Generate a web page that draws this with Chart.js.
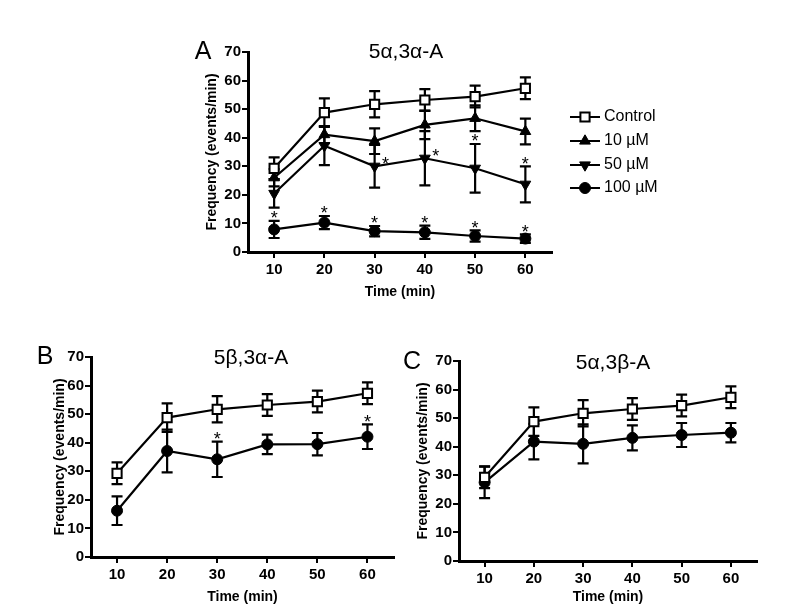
<!DOCTYPE html>
<html>
<head>
<meta charset="utf-8">
<script src="https://cdn.jsdelivr.net/npm/chart.js@4.4.1/dist/chart.umd.min.js"></script>
<style>
  html, body { margin: 0; padding: 0; background: #fff; }
  #wrap { position: relative; width: 800px; height: 611px; background: #fff; }
  #wrap canvas { position: absolute; left: 0; top: 0; }
</style>
</head>
<body>
<div id="wrap">
  <canvas id="chartA" width="800" height="611"></canvas>
  <canvas id="chartB" width="800" height="611"></canvas>
  <canvas id="chartC" width="800" height="611"></canvas>
</div>
<script>
// time points (min) and tick labels
const times = [10, 20, 30, 40, 50, 60];
const xTicks = [10, 20, 30, 40, 50, 60];
const yTicks = [0, 10, 20, 30, 40, 50, 60, 70];

// control (same in all panels)
const controlMean = [29.3, 48.8, 51.7, 53.2, 54.4, 57.3];
const controlSem  = [3.8, 5.0, 4.6, 3.8, 3.8, 3.8];

// panel A: 5a,3a-A
const a10Mean  = [26.0, 41.1, 38.8, 44.5, 46.8, 42.2];
const a10Sem   = [3.0, 3.0, 4.5, 5.0, 4.5, 4.5];
const a50Mean  = [20.5, 37.2, 30.0, 32.8, 29.3, 23.7];
const a50Sem   = [5.0, 6.8, 7.5, 9.5, 8.5, 6.3];
const a100Mean = [7.9, 10.3, 7.3, 6.9, 5.6, 4.7];
const a100Sem  = [3.0, 2.3, 1.8, 2.3, 2.0, 1.5];

// panel B: 5b,3a-A (100 uM)
const bMean = [16.2, 37.1, 34.2, 39.4, 39.5, 42.1];
const bSem  = [5.0, 7.5, 6.2, 3.4, 3.9, 4.3];

// panel C: 5a,3b-A (100 uM)
const cMean = [27.5, 41.8, 41.0, 43.1, 44.1, 44.9];
const cSem  = [5.5, 6.2, 6.8, 4.4, 4.2, 3.4];

// significance marks: series index, point index, where
const starsA = [
  { series: 3, index: 0, place: "above" },
  { series: 3, index: 1, place: "above" },
  { series: 3, index: 2, place: "above" },
  { series: 3, index: 3, place: "above" },
  { series: 3, index: 4, place: "above" },
  { series: 3, index: 5, place: "above" },
  { series: 2, index: 2, place: "right" },
  { series: 2, index: 3, place: "right" },
  { series: 2, index: 4, place: "above" },
  { series: 2, index: 5, place: "above" },
];
const starsB = [
  { series: 1, index: 2, place: "above" },
  { series: 1, index: 5, place: "above" },
];

const X_MIN = 4.8;
const X_MAX = 65.3;
const FONT = '"Liberation Sans", Arial, sans-serif';
Chart.defaults.font.family = FONT;
Chart.defaults.color = "#000";

const STYLE = {
  control: { shape: "rect", rotation: 0, radius: 6.5, fill: "#fff", bw: 2 },
  up: { shape: "triangle", rotation: 0, radius: 6.2, fill: "#000", bw: 1 },
  down: { shape: "triangle", rotation: 180, radius: 6.2, fill: "#000", bw: 1 },
  dot: { shape: "circle", rotation: 0, radius: 5.5, fill: "#000", bw: 1 },
};

function series(label, mean, sem, st) {
  return {
    label,
    data: times.map((t, i) => ({ x: t, y: mean[i] })),
    sem,
    marker: st,
    borderColor: "#000",
    borderWidth: 2.2,
    pointStyle: st.shape,
    pointRotation: st.rotation,
    pointRadius: st.radius,
    pointBackgroundColor: st.fill,
    pointBorderColor: "#000",
    pointBorderWidth: st.bw,
    tension: 0,
    fill: false,
  };
}

function drawMarker(ctx, st, x, y) {
  ctx.save();
  ctx.beginPath();
  if (st.shape === "rect") {
    const s = st.radius * Math.SQRT1_2;
    ctx.rect(x - s, y - s, 2 * s, 2 * s);
  } else if (st.shape === "triangle") {
    let a = st.rotation * Math.PI / 180;
    for (let k = 0; k < 3; k++) {
      const px = x + Math.sin(a) * st.radius;
      const py = y - Math.cos(a) * st.radius;
      if (k) ctx.lineTo(px, py); else ctx.moveTo(px, py);
      a += 2 * Math.PI / 3;
    }
    ctx.closePath();
  } else {
    ctx.arc(x, y, st.radius, 0, 2 * Math.PI);
  }
  ctx.fillStyle = st.fill;
  ctx.fill();
  ctx.lineWidth = st.bw;
  ctx.strokeStyle = "#000";
  ctx.stroke();
  ctx.restore();
}

const errorBars = {
  id: "errorBars",
  beforeDatasetsDraw(chart) {
    const ctx = chart.ctx, xs = chart.scales.x, ys = chart.scales.y;
    ctx.save();
    ctx.strokeStyle = "#000";
    ctx.lineWidth = 2.2;
    chart.data.datasets.forEach(ds => {
      ds.data.forEach((p, i) => {
        const px = xs.getPixelForValue(p.x);
        const top = ys.getPixelForValue(p.y + ds.sem[i]);
        const bot = ys.getPixelForValue(p.y - ds.sem[i]);
        ctx.beginPath();
        ctx.moveTo(px, top); ctx.lineTo(px, bot);
        ctx.moveTo(px - 5.5, top); ctx.lineTo(px + 5.5, top);
        ctx.moveTo(px - 5.5, bot); ctx.lineTo(px + 5.5, bot);
        ctx.stroke();
      });
    });
    ctx.restore();
  }
};

function starPlugin(stars) {
  return {
    id: "stars",
    afterDatasetsDraw(chart) {
      const ctx = chart.ctx, xs = chart.scales.x, ys = chart.scales.y;
      ctx.save();
      ctx.font = "18px " + FONT;
      ctx.fillStyle = "#000";
      ctx.textAlign = "center";
      ctx.textBaseline = "alphabetic";
      stars.forEach(s => {
        const ds = chart.data.datasets[s.series];
        const p = ds.data[s.index];
        const px = xs.getPixelForValue(p.x);
        if (s.place === "above") {
          const cap = ys.getPixelForValue(p.y + ds.sem[s.index]);
          ctx.fillText("*", px, cap - 7 + 10.3);
        } else {
          const py = ys.getPixelForValue(p.y);
          ctx.fillText("*", px + 11, py - 7 + 10.3);
        }
      });
      ctx.restore();
    }
  };
}

function textPlugin(items) {
  return {
    id: "panelText",
    afterDraw(chart) {
      const ctx = chart.ctx;
      ctx.save();
      ctx.fillStyle = "#000";
      ctx.textBaseline = "middle";
      items.forEach(t => {
        ctx.font = t.size + "px " + FONT;
        ctx.textAlign = t.align || "center";
        ctx.fillText(t.text, t.x, t.y);
      });
      ctx.restore();
    }
  };
}

const lineLegend = {
  id: "lineLegend",
  afterDraw(chart) {
    const ctx = chart.ctx;
    const rows = [117, 141, 165, 188];
    ctx.save();
    chart.data.datasets.forEach((ds, i) => {
      const y = rows[i];
      ctx.strokeStyle = "#000";
      ctx.lineWidth = 2;
      ctx.beginPath();
      ctx.moveTo(570, y); ctx.lineTo(600, y);
      ctx.stroke();
      drawMarker(ctx, ds.marker, 585, y);
      ctx.fillStyle = "#000";
      ctx.font = "16px " + FONT;
      ctx.textAlign = "left";
      ctx.textBaseline = "middle";
      ctx.fillText(ds.label, 604, y);
    });
    ctx.restore();
  }
};

function panelOptions(pad, yW, xH) {
  return {
    responsive: false,
    animation: false,
    devicePixelRatio: 1,
    events: [],
    layout: { padding: pad },
    plugins: {
      legend: { display: false },
      tooltip: { enabled: false },
      title: { display: false },
    },
    scales: {
      x: {
        type: "linear",
        min: X_MIN,
        max: X_MAX,
        afterBuildTicks: s => { s.ticks = xTicks.map(v => ({ value: v })); },
        afterFit: s => { s.height = xH; },
        ticks: { color: "#000", font: { size: 15, weight: "bold" }, padding: 3, maxRotation: 0 },
        grid: { drawOnChartArea: false, drawTicks: true, tickLength: 6, color: "#000", lineWidth: 2 },
        border: { display: true, color: "#000", width: 3 },
        title: {
          display: true, text: "Time (min)", color: "#000",
          font: { size: 14, weight: "bold" }, padding: { top: 0, bottom: 4 },
        },
      },
      y: {
        type: "linear",
        min: 0,
        max: 70,
        afterBuildTicks: s => { s.ticks = yTicks.map(v => ({ value: v })); },
        afterFit: s => { s.width = yW; },
        ticks: { color: "#000", font: { size: 15, weight: "bold" }, padding: 1 },
        grid: { drawOnChartArea: false, drawTicks: true, tickLength: 6, color: "#000", lineWidth: 2 },
        border: { display: true, color: "#000", width: 3 },
        title: {
          display: true, text: "Frequency (events/min)", color: "#000",
          font: { size: 14, weight: "bold" }, padding: { top: 4, bottom: 0 },
        },
      },
    },
  };
}

new Chart(document.getElementById("chartA"), {
  type: "line",
  data: {
    datasets: [
      series("Control", controlMean, controlSem, STYLE.control),
      series("10 µM", a10Mean, a10Sem, STYLE.up),
      series("50 µM", a50Mean, a50Sem, STYLE.down),
      series("100 µM", a100Mean, a100Sem, STYLE.dot),
    ]
  },
  options: panelOptions({ left: 200, right: 248, top: 52, bottom: 306 }, 48, 53),
  plugins: [errorBars, starPlugin(starsA), lineLegend, textPlugin([
    { text: "A", x: 203, y: 52, size: 25 },
    { text: "5α,3α-A", x: 406, y: 52, size: 21 },
  ])],
});

new Chart(document.getElementById("chartB"), {
  type: "line",
  data: {
    datasets: [
      series("Control", controlMean, controlSem, STYLE.control),
      series("100 µM", bMean, bSem, STYLE.dot),
    ]
  },
  options: panelOptions({ left: 48, right: 406, top: 357, bottom: 1 }, 43, 53),
  plugins: [errorBars, starPlugin(starsB), textPlugin([
    { text: "B", x: 45, y: 357, size: 25 },
    { text: "5β,3α-A", x: 251, y: 358, size: 21 },
  ])],
});

new Chart(document.getElementById("chartC"), {
  type: "line",
  data: {
    datasets: [
      series("Control", controlMean, controlSem, STYLE.control),
      series("100 µM", cMean, cSem, STYLE.dot),
    ]
  },
  options: panelOptions({ left: 411, right: 43, top: 361, bottom: 1 }, 48, 49),
  plugins: [errorBars, textPlugin([
    { text: "C", x: 412, y: 362, size: 25 },
    { text: "5α,3β-A", x: 613, y: 363, size: 21 },
  ])],
});
</script>
</body>
</html>
